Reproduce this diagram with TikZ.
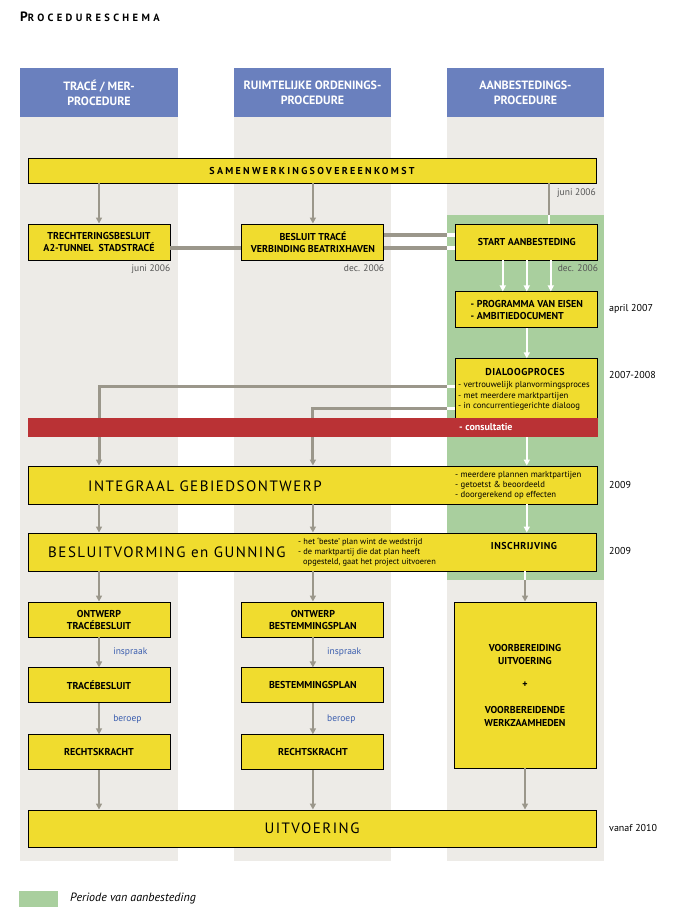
\documentclass[tikz,border=0pt]{standalone}
\usepackage{fontspec}
\setmainfont{PT Sans}
\usetikzlibrary{arrows.meta,positioning}

\definecolor{kopblauw}{HTML}{6A80BE}
\definecolor{kolomgrijs}{HTML}{EDEBE7}
\definecolor{periodegroen}{HTML}{A9CF9E}
\definecolor{stapgeel}{HTML}{F0DC2E}
\definecolor{consultrood}{HTML}{BA3235}
\definecolor{lijngrijs}{HTML}{9B978B}
\definecolor{datumgrijs}{HTML}{555555}
\definecolor{fasetekst}{HTML}{3A5DAE}

\begin{document}
\begin{tikzpicture}[x=1pt,y=-1pt,>={Triangle[width=6pt,length=6pt]},
                    node distance=30pt]
  \tikzstyle{stap}=[draw=black,line width=0.9pt,fill=stapgeel,inner sep=0pt,align=center,
                    minimum width=142pt,minimum height=35pt,
                    font=\fontsize{10}{12}\selectfont\bfseries]
  \tikzstyle{balk}=[stap,minimum width=568pt]
  \tikzstyle{kop}=[fill=kopblauw,text=white,inner sep=0pt,align=center,minimum height=49pt,
                   font=\fontsize{12}{15}\selectfont\bfseries]
  \tikzstyle{pijl}=[->,draw=lijngrijs,line width=2.5pt]
  \tikzstyle{witpijl}=[->,draw=white,line width=2.5pt]
  \tikzstyle{lijn}=[draw=lijngrijs,line width=2.5pt]
  \tikzstyle{witlijn}=[draw=white,line width=2.5pt]
  \tikzstyle{datum}=[inner sep=0pt,anchor=base east,text=datumgrijs,font=\fontsize{9.5}{10}\selectfont]
  \tikzstyle{periode}=[inner sep=0pt,anchor=base west,font=\fontsize{10}{11}\selectfont]
  \tikzstyle{punten}=[inner sep=0pt,align=left,font=\fontsize{8.7}{10.5}\selectfont]
  \tikzstyle{fase}=[inner sep=0pt,anchor=west,text=fasetekst,font=\fontsize{9.5}{10}\selectfont]
  \tikzstyle{groot}=[inner sep=0pt,font=\fontsize{15}{17}\selectfont\addfontfeature{LetterSpace=10}]
  \tikzstyle{kopje}=[inner sep=0pt,font=\fontsize{10}{12}\selectfont\bfseries\addfontfeature{LetterSpace=5}]

  \useasboundingbox (0,0) rectangle (675,907);

  % kolommen en periode van aanbesteding
  \foreach \xl/\xr in {20/178,234/391,447/604}
    \fill[kolomgrijs] (\xl,117) rectangle (\xr,861);
  \fill[periodegroen] (447,215) rectangle (604,580);
  \coordinate (groenrand) at (447,215);
  \coordinate (groenonder) at (447,580);
  \coordinate (kantel) at (549,215);

  \node[inner sep=0pt,anchor=base west,font=\bfseries\addfontfeature{LetterSpace=32}] (titel) at (20,22)
    {{\fontsize{13.5}{13}\selectfont P}{\fontsize{10.5}{13}\selectfont ROCEDURESCHEMA}};

  \node[kop,minimum width=158pt] (kopmer)  at (99,92.5)    {TRACÉ / MER-\\PROCEDURE};
  \node[kop,minimum width=157pt] (kopro)   at (312.5,92.5) {RUIMTELIJKE ORDENINGS-\\PROCEDURE};
  \node[kop,minimum width=157pt] (kopaanb) at (525.5,92.5) {AANBESTEDINGS-\\PROCEDURE};

  % stappen
  \node[balk,minimum height=25pt] (samen) at (312,170.5)
    {\addfontfeature{LetterSpace=23}SAMENWERKINGSOVEREENKOMST};
  \node[stap,minimum height=36pt] (trecht) at (99,242) {TRECHTERINGSBESLUIT\\A2-TUNNEL\ \ STADSTRACÉ};
  \node[stap,minimum height=36pt,right=71pt of trecht] (bestr) {BESLUIT TRACÉ\\VERBINDING BEATRIXHAVEN};
  \node[stap,minimum height=36pt,right=71pt of bestr] (start) {START AANBESTEDING};
  \node[stap,minimum height=36pt,below=31pt of start,align=left] (pve)
    {- PROGRAMMA VAN EISEN\\- AMBITIEDOCUMENT};
  \node[stap,minimum height=64pt,below=30pt of pve] (dialoog) {};
  \node[kopje] (dialoogkop) at (525,372) {DIALOOGPROCES};
  \node[punten,anchor=north west] (dialoogpunten) at (458,381.5)
    {- vertrouwelijk planvormingsproces\\- met meerdere marktpartijen\\- in concurrentiegerichte dialoog};

  \node[balk,minimum height=38pt,minimum width=569pt] (integraal) at (312.5,485) {};
  \node[groot,anchor=west] (integraaltekst) at (88,486) {INTEGRAAL GEBIEDSONTWERP};
  \node[punten,anchor=west,font=\fontsize{8.7}{10}\selectfont] (integraalpunten) at (455,485)
    {- meerdere plannen marktpartijen\\- getoetst \& beoordeeld\\- doorgerekend op effecten};

  \node[balk,minimum height=38pt] (besluit) at (312,552) {};
  \node[groot,anchor=west] (besluittekst) at (48,552) {BESLUITVORMING en GUNNING};
  \node[punten,anchor=west,font=\fontsize{8.4}{10}\selectfont] (besluitpunten) at (298,552)
    {- het ‘beste’ plan wint de wedstrijd\\- de marktpartij die dat plan heeft\\\hspace*{5pt}opgesteld, gaat het project uitvoeren};
  \node[kopje] (inschrijving) at (524,546) {INSCHRIJVING};

  \node[stap] (otb) at (99,619.5) {ONTWERP\\TRACÉBESLUIT};
  \node[stap,below=30pt of otb] (tb) {TRACÉBESLUIT};
  \node[stap,below=31pt of tb] (rk1) {RECHTSKRACHT};
  \node[stap,right=71pt of otb] (obp) {ONTWERP\\BESTEMMINGSPLAN};
  \node[stap,right=71pt of tb] (bp) {BESTEMMINGSPLAN};
  \node[stap,right=71pt of rk1] (rk2) {RECHTSKRACHT};
  \node[stap,minimum height=166pt,font=\fontsize{10}{13}\selectfont\bfseries] (voorb) at (525,685)
    {VOORBEREIDING\\UITVOERING\\[10pt]+\\[13pt]VOORBEREIDENDE\\WERKZAAMHEDEN};
  \node[balk,minimum height=37pt,font=\fontsize{15}{17}\selectfont\addfontfeature{LetterSpace=10}] (uitv)
    at (312,828.5) {UITVOERING};

  % data
  \node[datum] (djuni1) at (596,195) {juni 2006};
  \node[datum] (djuni2) at ([yshift=-11pt]trecht.south east) {juni 2006};
  \node[datum] (ddec1) at ([yshift=-11pt]bestr.south east) {dec. 2006};
  \node[datum] (ddec2) at ([yshift=-11pt]start.south east) {dec. 2006};
  \node[periode] (dapril) at (609,311) {april 2007};
  \node[periode] (ddialoog) at (609,378) {2007-2008};
  \node[periode] (dintegraal) at (609,488) {2009};
  \node[periode] (dbesluit) at (609,554) {2009};
  \node[periode] (duitv) at (609,831) {vanaf 2010};

  % verbindingen
  \draw[pijl] (samen.south -| trecht.north) -- (trecht.north);
  \draw[pijl] (samen.south -| bestr.north) -- (bestr.north);
  \draw[lijn] (samen.south -| kantel) -- (kantel);
  \draw[witlijn] (kantel) -- (start.north -| kantel);

  \draw[lijn,line width=4pt] ([yshift=-6pt]trecht.east) -- ([yshift=-6pt]bestr.west);
  \foreach \dy in {7,-6} {
    \draw[lijn,line width=4pt] ([yshift=\dy pt]bestr.east) -- ([yshift=\dy pt]bestr.east -| groenrand);
    \draw[witlijn,line width=4pt] ([yshift=\dy pt]bestr.east -| groenrand) -- ([yshift=\dy pt]start.west);
  }
  \foreach \dx in {-24,0,24}
    \draw[witpijl] ([xshift=\dx pt]start.south) -- ([xshift=\dx pt]pve.north);
  \draw[witpijl] (pve) -- (dialoog);

  \draw[pijl,line width=3pt] ([yshift=4pt]dialoog.west -| groenrand) -| (integraal.north -| trecht);
  \draw[witlijn,line width=3pt] ([yshift=4pt]dialoog.west -| groenrand) -- ([yshift=4pt]dialoog.west);
  \draw[pijl,line width=3pt] ([yshift=-18pt]dialoog.west -| groenrand) -| (integraal.north -| bestr);
  \draw[witlijn,line width=3pt] ([yshift=-18pt]dialoog.west -| groenrand) -- ([yshift=-18pt]dialoog.west);

  \node[fill=consultrood,inner sep=0pt,minimum width=570pt,minimum height=19pt] (consult) at (313,427.5) {};
  \node[inner sep=0pt,anchor=west,text=white,font=\fontsize{10}{11}\selectfont\bfseries] (consulttekst)
    at (459,427.5) {- consultatie};
  \draw[witpijl] (consult.south -| start) -- (integraal.north -| start);

  \draw[pijl] (integraal.south -| trecht) -- (besluit.north -| trecht);
  \draw[pijl] (integraal.south -| bestr) -- (besluit.north -| bestr);
  \draw[witpijl] (integraal.south -| start) -- (besluit.north -| start);

  \draw[pijl] (besluit.south -| otb) -- (otb);
  \draw[pijl] (besluit.south -| obp) -- (obp);
  \draw[witlijn] (besluit.south -| voorb) -- (groenonder -| voorb);
  \draw[pijl] (groenonder -| voorb) -- (voorb);

  \draw[pijl] (otb) -- node[fase,xshift=13pt] (inspraak1) {inspraak} (tb);
  \draw[pijl] (tb) -- node[fase,xshift=13pt] (beroep1) {beroep} (rk1);
  \draw[pijl] (obp) -- node[fase,xshift=13pt] (inspraak2) {inspraak} (bp);
  \draw[pijl] (bp) -- node[fase,xshift=13pt] (beroep2) {beroep} (rk2);

  \draw[pijl] (rk1) -- (uitv.north -| rk1);
  \draw[pijl] (rk2) -- (uitv.north -| rk2);
  \draw[pijl] (voorb) -- (uitv.north -| voorb);

  % legenda
  \fill[periodegroen] (19,891) rectangle (58,907);
  \node[inner sep=0pt,anchor=west,font=\fontsize{12}{13}\selectfont\itshape] (legenda) at (70,899)
    {Periode van aanbesteding};
\end{tikzpicture}
\end{document}
